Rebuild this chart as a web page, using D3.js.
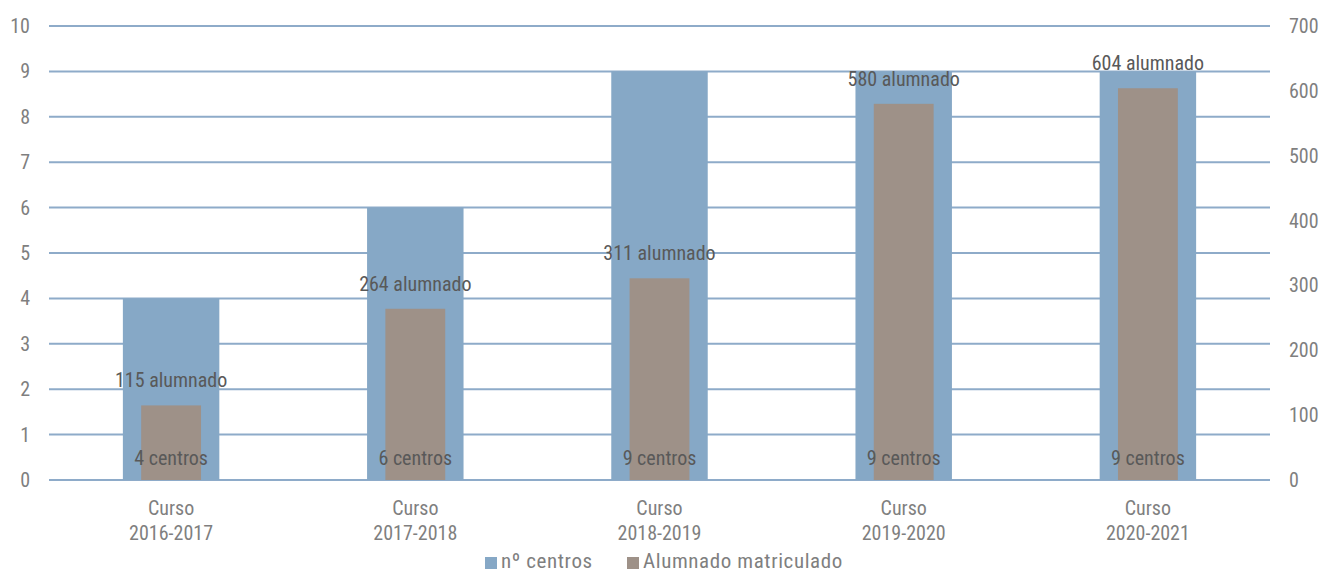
<!DOCTYPE html>
<html>
<head>
<meta charset="utf-8">
<script src="https://cdn.jsdelivr.net/npm/d3@7"></script>
<style>
  body { margin: 0; background: #fff; }
  text { font-family: "Liberation Sans Narrow", "Roboto Condensed", Roboto, sans-serif; }
</style>
</head>
<body>
<div id="chart"></div>
<script>
var cursos = ["Curso 2016-2017", "Curso 2017-2018", "Curso 2018-2019", "Curso 2019-2020", "Curso 2020-2021"];
var centros = [4, 6, 9, 9, 9];
var alumnado = [115, 264, 311, 580, 604];
var leftTicks = [0, 1, 2, 3, 4, 5, 6, 7, 8, 9, 10];
var rightTicks = [0, 100, 200, 300, 400, 500, 600, 700];
var seriesNames = ["nº centros", "Alumnado matriculado"];

function drawChart() {
  var width = 1322;
  var height = 574;
  var margin = {top: 26, right: 52, bottom: 94, left: 49};
  var blue = "#86a8c6";
  var brown = "#9e9188";
  var grid = "#8eabc9";
  var labelColor = "#595959";
  var tickColor = "#7f7f7f";

  var svg = d3.select("#chart").append("svg").attr("width", width).attr("height", height);

  var x = d3.scaleBand().domain(cursos).range([margin.left, width - margin.right]);
  var yLeft = d3.scaleLinear().domain([0, 10]).range([height - margin.bottom, margin.top]);
  var yRight = d3.scaleLinear().domain([0, 700]).range([height - margin.bottom, margin.top]);

  // gridlines
  svg.append("g").selectAll("line").data(leftTicks).enter().append("line")
    .attr("x1", margin.left).attr("x2", width - margin.right)
    .attr("y1", function (d) { return yLeft(d); })
    .attr("y2", function (d) { return yLeft(d); })
    .attr("stroke", grid).attr("stroke-width", 2);

  // left axis labels
  svg.append("g").selectAll("text").data(leftTicks).enter().append("text")
    .attr("x", 30).attr("y", function (d) { return yLeft(d); })
    .attr("dy", "0.35em").attr("text-anchor", "end")
    .attr("fill", tickColor).attr("font-size", 20)
    .text(function (d) { return d; });

  // right axis labels
  svg.append("g").selectAll("text").data(rightTicks).enter().append("text")
    .attr("x", 1289).attr("y", function (d) { return yRight(d); })
    .attr("dy", "0.35em").attr("text-anchor", "start")
    .attr("fill", tickColor).attr("font-size", 20)
    .text(function (d) { return d; });

  var bw = x.bandwidth();
  var blueW = bw * 0.395;
  var brownW = bw * 0.245;

  var g = svg.append("g").selectAll("g").data(cursos).enter().append("g");

  g.append("rect")
    .attr("x", function (d) { return x(d) + bw / 2 - blueW / 2; })
    .attr("width", blueW)
    .attr("y", function (d, i) { return yLeft(centros[i]); })
    .attr("height", function (d, i) { return yLeft(0) - yLeft(centros[i]); })
    .attr("fill", blue);

  g.append("rect")
    .attr("x", function (d) { return x(d) + bw / 2 - brownW / 2; })
    .attr("width", brownW)
    .attr("y", function (d, i) { return yRight(alumnado[i]); })
    .attr("height", function (d, i) { return yRight(0) - yRight(alumnado[i]); })
    .attr("fill", brown);

  g.append("text")
    .attr("x", function (d) { return x(d) + bw / 2; })
    .attr("y", function (d, i) { return yRight(alumnado[i]) - 18; })
    .attr("text-anchor", "middle").attr("fill", labelColor).attr("font-size", 20)
    .text(function (d, i) { return alumnado[i] + " alumnado"; });

  g.append("text")
    .attr("x", function (d) { return x(d) + bw / 2; })
    .attr("y", yLeft(0) - 15)
    .attr("text-anchor", "middle").attr("fill", labelColor).attr("font-size", 20)
    .text(function (d, i) { return centros[i] + " centros"; });

  // category labels, two lines
  var cat = g.append("text")
    .attr("text-anchor", "middle").attr("fill", tickColor).attr("font-size", 20);
  cat.append("tspan")
    .attr("x", function (d) { return x(d) + bw / 2; })
    .attr("y", 515)
    .text(function (d) { return d.split(" ")[0]; });
  cat.append("tspan")
    .attr("x", function (d) { return x(d) + bw / 2; })
    .attr("y", 540)
    .text(function (d) { return d.split(" ")[1]; });

  // legend
  var legendX = [485, 627];
  var colors = [blue, brown];
  var lg = svg.append("g").selectAll("g").data(seriesNames).enter().append("g");
  lg.append("rect")
    .attr("x", function (d, i) { return legendX[i]; })
    .attr("y", 557).attr("width", 12).attr("height", 12)
    .attr("fill", function (d, i) { return colors[i]; });
  lg.append("text")
    .attr("x", function (d, i) { return legendX[i] + 16; })
    .attr("y", 568)
    .attr("fill", tickColor).attr("font-size", 21)
    .attr("letter-spacing", 0.6)
    .text(function (d) { return d; });
}

drawChart();
</script>
</body>
</html>
